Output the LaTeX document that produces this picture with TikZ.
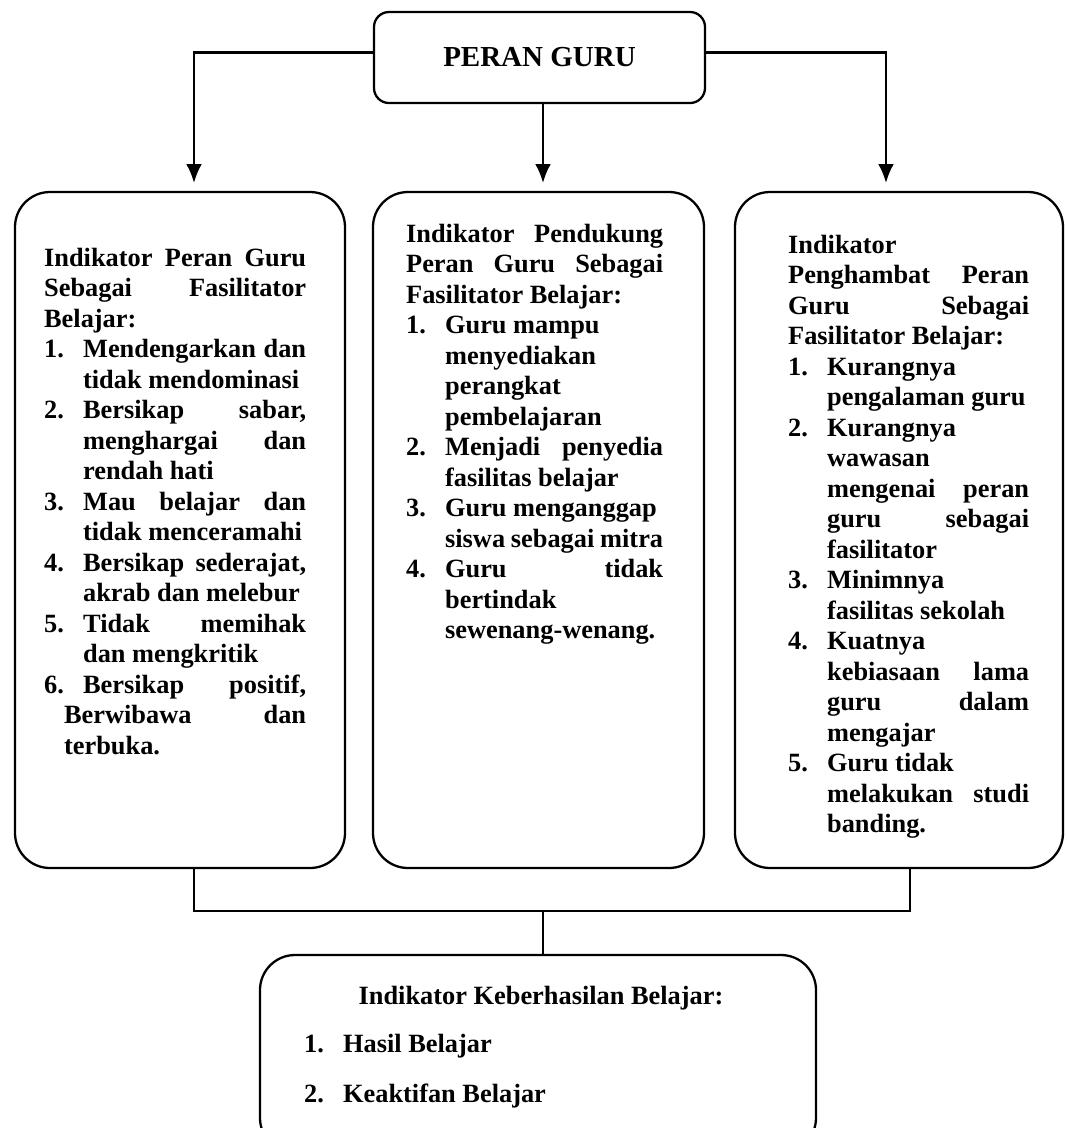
\documentclass[tikz,border=0pt]{standalone}
\usepackage{fontspec}
\setmainfont{Liberation Serif}
\usepackage{tikz}
\usetikzlibrary{arrows.meta}
\usetikzlibrary{calc}
\usetikzlibrary{positioning}

\newlength{\numw}
\setlength{\numw}{0.78cm}
\newcommand{\jl}[1]{\makebox[\hsize][s]{#1}}
\newcommand{\jj}[1]{\makebox[\dimexpr\hsize-\numw\relax][s]{#1}}
\newcommand{\nr}[1]{\makebox[\numw][l]{#1}}
\newcommand{\ind}{\hspace*{\numw}}

\begin{document}
\begin{tikzpicture}[
  > = {Latex[length=10.8pt,width=9pt]},
  line width=1.3pt,
  box/.style = {draw, rounded corners=0.7cm, minimum width=6.6cm, minimum height=13.52cm},
  txt/.style = {anchor=north west, inner sep=0, align=left, font=\bfseries\fontsize{15}{17.35}\selectfont,
    execute at begin node={\spaceskip=0pt\xspaceskip=0pt\hyphenpenalty=10000}}
  ]
	\useasboundingbox (0,0) rectangle (21.34,-22.56);

	\node[draw, rounded corners=0.3cm, minimum width=6.62cm, minimum height=1.82cm,
		font=\bfseries\fontsize{16.5}{19}\selectfont] (peran) at (10.79,-1.15) {PERAN GURU};
	\node[box] (fasil) at (3.6,-10.6) {};
	\node[box, minimum width=6.62cm] (dukung) at (10.77,-10.6) {};
	\node[box, minimum width=6.56cm] (hambat) at (17.98,-10.6) {};
	\node[box, minimum width=11.12cm, minimum height=3.96cm] (hasil) at (10.76,-21.08) {};

	\coordinate (a) at (3.88,-3.66);
	\coordinate (b) at (10.86,-3.66);
	\coordinate (c) at (17.72,-3.66);
	\coordinate (d) at (3.88,-18.22);
	\coordinate (e) at (18.2,-18.22);
	\coordinate (f) at (10.86,-18.22);

	\draw[->] ([yshift=0.1cm]peran.west) -| (a);
	\draw[->] ([yshift=0.1cm]peran.east) -| (c);
	\draw[->] (peran.south -| b) -- (b);

	\draw (fasil.south -| d) |- (e) -- (hambat.south -| e);
	\draw (f) -- (hasil.north -| f);

	\node[txt, text width=5.24cm] (fasiltxt) at (0.86,-4.94) {
		\jl{Indikator Peran Guru}\\
		\jl{Sebagai Fasilitator}\\
		Belajar:\\
		\nr{1.}\jj{Mendengarkan dan}\\
		\ind tidak mendominasi\\
		\nr{2.}\jj{Bersikap sabar,}\\
		\ind\jj{menghargai dan}\\
		\ind rendah hati\\
		\nr{3.}\jj{Mau belajar dan}\\
		\ind tidak menceramahi\\
		\nr{4.}\jj{Bersikap sederajat,}\\
		\ind akrab dan melebur\\
		\nr{5.}\jj{Tidak memihak}\\
		\ind dan mengkritik\\
		\nr{6.}\jj{Bersikap positif,}\\
		\hspace*{0.4cm}\makebox[\dimexpr\hsize-0.4cm\relax][s]{Berwibawa dan}\\
		\hspace*{0.4cm}terbuka.};

	\node[txt, text width=5.14cm] (dukungtxt) at (8.1,-4.46) {
		\jl{Indikator Pendukung}\\
		\jl{Peran Guru Sebagai}\\
		Fasilitator Belajar:\\
		\nr{1.}Guru mampu\\
		\ind menyediakan\\
		\ind perangkat\\
		\ind pembelajaran\\
		\nr{2.}\jj{Menjadi penyedia}\\
		\ind fasilitas belajar\\
		\nr{3.}Guru menganggap\\
		\ind siswa sebagai mitra\\
		\nr{4.}\jj{Guru tidak}\\
		\ind bertindak\\
		\ind sewenang-wenang.};

	\node[txt, text width=4.82cm] (hambattxt) at (15.74,-4.68) {
		Indikator\\
		\jl{Penghambat Peran}\\
		\jl{Guru Sebagai}\\
		Fasilitator Belajar:\\
		\nr{1.}Kurangnya\\
		\ind pengalaman guru\\
		\nr{2.}Kurangnya\\
		\ind wawasan\\
		\ind\jj{mengenai peran}\\
		\ind\jj{guru sebagai}\\
		\ind fasilitator\\
		\nr{3.}Minimnya\\
		\ind fasilitas sekolah\\
		\nr{4.}Kuatnya\\
		\ind\jj{kebiasaan lama}\\
		\ind\jj{guru dalam}\\
		\ind mengajar\\
		\nr{5.}Guru tidak\\
		\ind\jj{melakukan studi}\\
		\ind banding.};

	\node[font=\bfseries\fontsize{15}{17.35}\selectfont] (hasiltitle) at (10.82,-19.96) {Indikator Keberhasilan Belajar:};
	\node[txt, anchor=west] (hasil1) at (6.06,-20.92) {\nr{1.}Hasil Belajar};
	\node[txt, anchor=west] (hasil2) at (6.06,-21.92) {\nr{2.}Keaktifan Belajar};
\end{tikzpicture}
\end{document}
